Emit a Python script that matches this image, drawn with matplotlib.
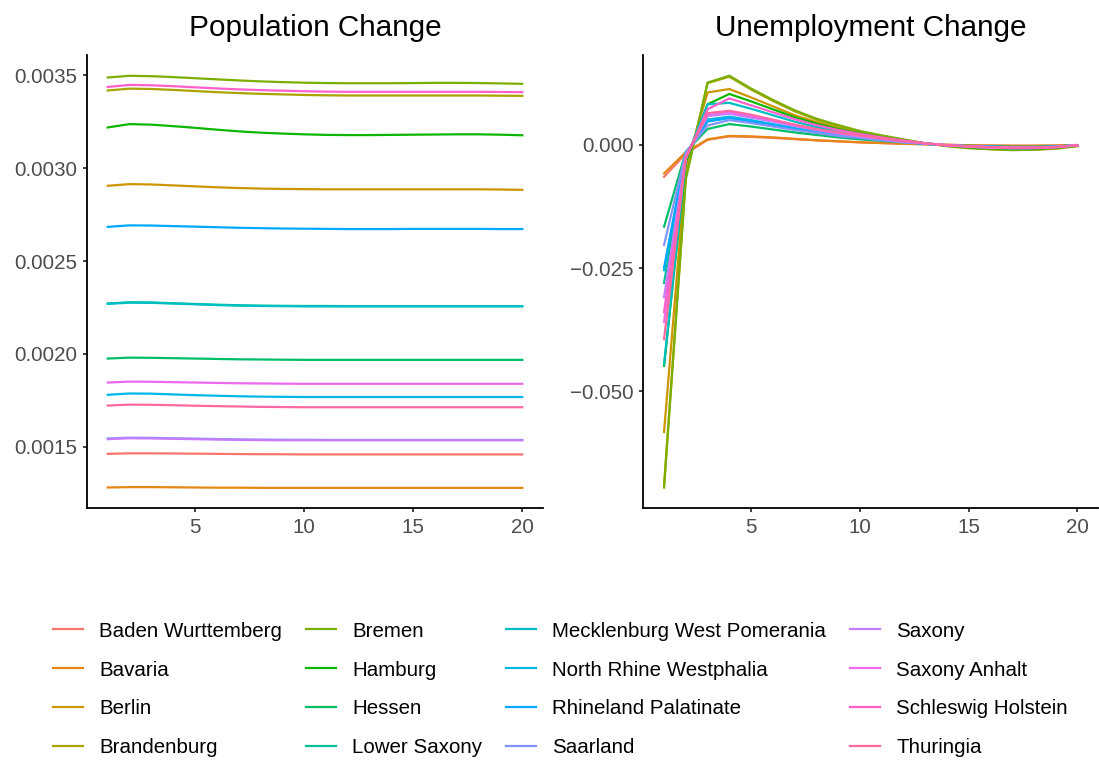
import numpy as np
import matplotlib
matplotlib.use("Agg")
import matplotlib.pyplot as plt
from matplotlib.ticker import FuncFormatter

plt.rcParams["font.family"] = ["Liberation Sans", "DejaVu Sans"]

states = [
    "Baden Wurttemberg", "Bavaria", "Berlin", "Brandenburg",
    "Bremen", "Hamburg", "Hessen", "Lower Saxony",
    "Mecklenburg West Pomerania", "North Rhine Westphalia", "Rhineland Palatinate", "Saarland",
    "Saxony", "Saxony Anhalt", "Schleswig Holstein", "Thuringia",
]
colors = [
    "#F8766D", "#E68613", "#CD9600", "#ABA300",
    "#7CAE00", "#0CB702", "#00BE67", "#00C19A",
    "#00BFC4", "#00B8E7", "#00A9FF", "#8494FF",
    "#C77CFF", "#ED68ED", "#FF61CC", "#FF68A1",
]
horizon = list(range(1, 21))

# responses in thousandths
population = {
    "Baden Wurttemberg": [1.462, 1.465, 1.465, 1.464, 1.463, 1.462, 1.461, 1.460, 1.460, 1.459,
                          1.459, 1.459, 1.459, 1.459, 1.459, 1.459, 1.459, 1.459, 1.459, 1.459],
    "Bavaria": [1.281, 1.283, 1.283, 1.282, 1.281, 1.280, 1.280, 1.279, 1.279, 1.279,
                1.279, 1.279, 1.279, 1.279, 1.279, 1.279, 1.279, 1.279, 1.279, 1.279],
    "Berlin": [2.905, 2.914, 2.912, 2.907, 2.902, 2.897, 2.893, 2.890, 2.888, 2.887,
               2.886, 2.886, 2.886, 2.886, 2.886, 2.886, 2.886, 2.886, 2.885, 2.883],
    "Brandenburg": [3.418, 3.428, 3.426, 3.421, 3.415, 3.409, 3.404, 3.400, 3.397, 3.394,
                    3.392, 3.391, 3.391, 3.391, 3.391, 3.391, 3.391, 3.391, 3.390, 3.389],
    "Bremen": [3.488, 3.497, 3.495, 3.490, 3.484, 3.478, 3.472, 3.467, 3.463, 3.460,
               3.458, 3.457, 3.457, 3.457, 3.458, 3.459, 3.459, 3.458, 3.456, 3.454],
    "Hamburg": [3.219, 3.237, 3.234, 3.226, 3.217, 3.207, 3.198, 3.191, 3.186, 3.182,
                3.179, 3.178, 3.178, 3.179, 3.180, 3.181, 3.182, 3.182, 3.180, 3.177],
    "Hessen": [1.975, 1.980, 1.979, 1.977, 1.975, 1.973, 1.971, 1.970, 1.969, 1.968,
               1.968, 1.968, 1.968, 1.968, 1.968, 1.968, 1.968, 1.968, 1.968, 1.968],
    "Lower Saxony": [2.272, 2.278, 2.277, 2.273, 2.269, 2.265, 2.262, 2.260, 2.259, 2.258,
                     2.258, 2.257, 2.257, 2.257, 2.257, 2.257, 2.257, 2.257, 2.257, 2.257],
    "Mecklenburg West Pomerania": [2.269, 2.276, 2.275, 2.271, 2.267, 2.263, 2.260, 2.258, 2.257, 2.256,
                                   2.256, 2.256, 2.256, 2.256, 2.256, 2.256, 2.256, 2.256, 2.256, 2.256],
    "North Rhine Westphalia": [1.780, 1.787, 1.786, 1.782, 1.778, 1.775, 1.772, 1.770, 1.769, 1.768,
                               1.768, 1.768, 1.768, 1.768, 1.768, 1.768, 1.768, 1.768, 1.768, 1.768],
    "Rhineland Palatinate": [2.684, 2.692, 2.691, 2.688, 2.685, 2.682, 2.679, 2.677, 2.675, 2.674,
                             2.673, 2.672, 2.672, 2.672, 2.673, 2.673, 2.673, 2.673, 2.672, 2.672],
    "Saarland": [1.545, 1.549, 1.548, 1.546, 1.544, 1.542, 1.540, 1.539, 1.538, 1.538,
                 1.537, 1.537, 1.537, 1.537, 1.537, 1.537, 1.537, 1.537, 1.537, 1.537],
    "Saxony": [1.541, 1.546, 1.545, 1.543, 1.541, 1.539, 1.537, 1.536, 1.535, 1.535,
               1.535, 1.535, 1.535, 1.535, 1.535, 1.535, 1.535, 1.535, 1.535, 1.535],
    "Saxony Anhalt": [1.846, 1.851, 1.850, 1.848, 1.846, 1.844, 1.842, 1.841, 1.840, 1.839,
                      1.839, 1.839, 1.839, 1.839, 1.839, 1.839, 1.839, 1.839, 1.839, 1.839],
    "Schleswig Holstein": [3.437, 3.448, 3.446, 3.441, 3.435, 3.429, 3.424, 3.420, 3.417, 3.414,
                           3.412, 3.411, 3.411, 3.411, 3.411, 3.411, 3.411, 3.411, 3.410, 3.409],
    "Thuringia": [1.722, 1.727, 1.726, 1.724, 1.721, 1.719, 1.717, 1.715, 1.714, 1.713,
                  1.713, 1.713, 1.713, 1.713, 1.713, 1.713, 1.713, 1.713, 1.713, 1.713],
}

unemployment = {
    "Baden Wurttemberg": [-6.5, -1.8, 1.0, 1.7, 1.6, 1.4, 1.15, 0.9, 0.7, 0.5,
                          0.35, 0.2, 0.1, 0.0, -0.1, -0.15, -0.2, -0.2, -0.15, -0.05],
    "Bavaria": [-5.8, -1.5, 1.1, 1.8, 1.7, 1.5, 1.2, 0.9, 0.7, 0.5,
                0.35, 0.2, 0.1, 0.0, -0.1, -0.15, -0.2, -0.2, -0.15, -0.05],
    "Berlin": [-58.2, -4.5, 10.6, 11.3, 9.6, 7.8, 6.0, 4.6, 3.4, 2.4,
               1.6, 0.9, 0.3, -0.2, -0.5, -0.8, -0.9, -0.9, -0.7, -0.2],
    "Brandenburg": [-69.0, -6.5, 12.5, 13.8, 11.2, 8.9, 6.8, 5.1, 3.8, 2.7,
                    1.8, 1.0, 0.3, -0.2, -0.6, -0.9, -1.0, -1.0, -0.8, -0.3],
    "Bremen": [-69.5, -7.0, 12.6, 14.0, 11.4, 9.1, 7.0, 5.3, 4.0, 2.8,
               1.9, 1.1, 0.3, -0.3, -0.7, -0.9, -1.1, -1.0, -0.7, -0.1],
    "Hamburg": [-44.8, -3.5, 8.2, 10.3, 8.8, 7.2, 5.6, 4.3, 3.2, 2.3,
                1.5, 0.9, 0.3, -0.1, -0.5, -0.7, -0.8, -0.8, -0.6, -0.2],
    "Hessen": [-16.6, -1.4, 3.2, 4.2, 3.7, 3.1, 2.5, 2.0, 1.5, 1.1,
               0.8, 0.5, 0.2, -0.1, -0.2, -0.3, -0.4, -0.4, -0.3, -0.1],
    "Lower Saxony": [-28.0, -2.0, 5.1, 5.5, 4.8, 4.1, 3.3, 2.6, 2.0, 1.5,
                     1.0, 0.6, 0.2, -0.1, -0.3, -0.4, -0.5, -0.5, -0.4, -0.1],
    "Mecklenburg West Pomerania": [-44.5, -3.0, 8.2, 8.5, 7.3, 6.0, 4.7, 3.6, 2.7, 1.9,
                                   1.3, 0.8, 0.3, -0.1, -0.4, -0.6, -0.7, -0.7, -0.5, -0.1],
    "North Rhine Westphalia": [-25.4, -1.9, 5.1, 5.7, 5.0, 4.2, 3.4, 2.7, 2.1, 1.5,
                               1.0, 0.6, 0.2, -0.1, -0.3, -0.4, -0.5, -0.5, -0.4, -0.1],
    "Rhineland Palatinate": [-24.9, -1.8, 4.7, 5.4, 4.8, 4.0, 3.2, 2.5, 1.9, 1.4,
                             1.0, 0.6, 0.2, -0.1, -0.3, -0.4, -0.5, -0.5, -0.4, -0.1],
    "Saarland": [-20.3, -1.6, 3.9, 5.0, 4.4, 3.7, 3.0, 2.4, 1.8, 1.4,
                 0.9, 0.5, 0.2, -0.1, -0.3, -0.4, -0.5, -0.5, -0.4, -0.1],
    "Saxony": [-30.9, -2.2, 5.8, 6.3, 5.5, 4.7, 3.8, 3.0, 2.3, 1.7,
               1.2, 0.7, 0.3, -0.1, -0.3, -0.5, -0.6, -0.6, -0.4, -0.1],
    "Saxony Anhalt": [-35.9, -2.4, 6.2, 6.6, 5.8, 4.9, 4.0, 3.1, 2.4, 1.8,
                      1.3, 0.7, 0.3, -0.1, -0.3, -0.5, -0.6, -0.6, -0.5, -0.1],
    "Schleswig Holstein": [-33.9, -2.8, 7.2, 9.4, 8.0, 6.6, 5.2, 4.0, 3.0, 2.2,
                           1.5, 0.9, 0.3, -0.1, -0.4, -0.6, -0.7, -0.7, -0.5, -0.1],
    "Thuringia": [-39.4, -2.6, 6.4, 6.9, 6.1, 5.1, 4.1, 3.2, 2.5, 1.9,
                  1.3, 0.8, 0.3, -0.1, -0.3, -0.5, -0.6, -0.6, -0.5, -0.1],
}

W, H = 1099, 763
fig = plt.figure(figsize=(W / 100, H / 100), dpi=100)
ax_pop = fig.add_axes([87 / W, 1 - 508.3 / H, 456 / W, 453.3 / H])
ax_unemp = fig.add_axes([643.4 / W, 1 - 508.3 / H, 454.6 / W, 453.3 / H])


def minus(fmt):
    return FuncFormatter(lambda v, pos: fmt.format(v).replace("-", "\u2212"))


def style_axes(ax, title):
    for side in ("top", "right"):
        ax.spines[side].set_visible(False)
    for side in ("left", "bottom"):
        ax.spines[side].set_linewidth(1.3)
        ax.spines[side].set_color("black")
    ax.tick_params(axis="both", length=3.2, width=1.3, color="#333333",
                   labelcolor="#4D4D4D", labelsize=14.8, pad=4)
    ax.set_title(title, fontsize=21.4, pad=14)
    ax.set_xlim(0.05, 20.95)
    ax.set_xticks([5, 10, 15, 20])


lines = []
for state, col in zip(states, colors):
    (ln,) = ax_pop.plot(horizon, np.array(population[state]) / 1000, color=col, lw=1.6, label=state)
    lines.append(ln)
    ax_unemp.plot(horizon, np.array(unemployment[state]) / 1000, color=col, lw=1.6)

style_axes(ax_pop, "Population Change")
ax_pop.set_ylim(0.001169, 0.003609)
ax_pop.set_yticks([0.0015, 0.0020, 0.0025, 0.0030, 0.0035])
ax_pop.yaxis.set_major_formatter(minus("{:.4f}"))

style_axes(ax_unemp, "Unemployment Change")
ax_unemp.set_ylim(-0.0737, 0.0182)
ax_unemp.set_yticks([-0.050, -0.025, 0.000])
ax_unemp.yaxis.set_major_formatter(minus("{:.3f}"))

fig.legend(handles=lines, labels=states, ncol=4, loc="center",
           bbox_to_anchor=(0.510, 1 - 689.5 / H), frameon=False, fontsize=14.8,
           handlelength=1.46, handletextpad=0.8, columnspacing=1.15, labelspacing=0.97)

fig.savefig("out.png", dpi=100)
